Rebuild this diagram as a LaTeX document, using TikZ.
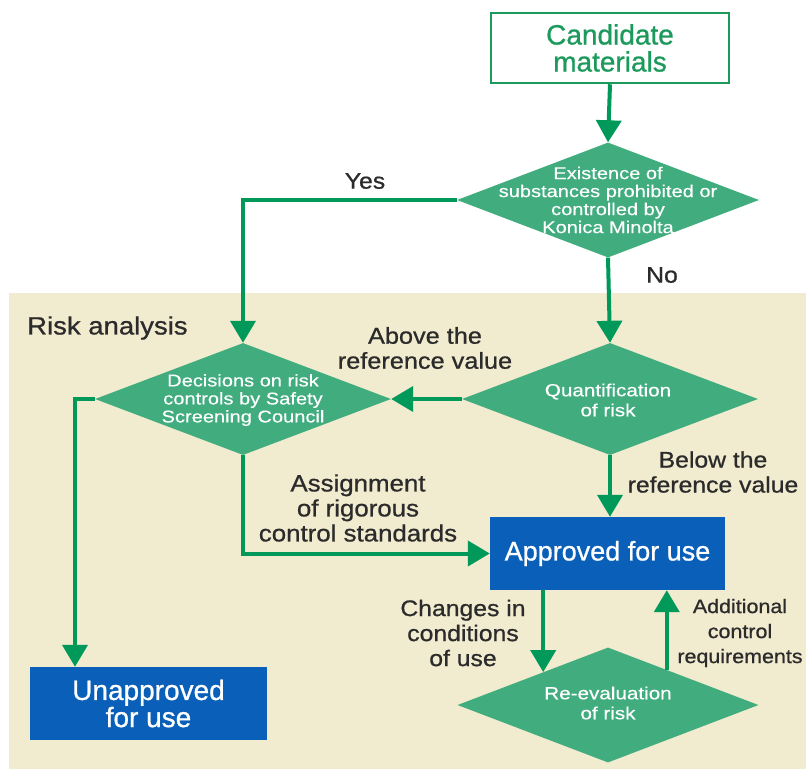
\documentclass[tikz,border=0pt]{standalone}
\usepackage{fontspec}
\setmainfont{Liberation Sans}
\newfontfamily\lblfont[FakeStretch=1.1,FakeBold=0.8]{Liberation Sans}
\newfontfamily\boxfont[FakeBold=0.8]{Liberation Sans}
\newfontfamily\dfont[FakeStretch=1.18,FakeBold=0.4]{Liberation Sans}
\usetikzlibrary{arrows.meta,shapes.geometric,calc}
\definecolor{beige}{HTML}{F1EBCF}
\definecolor{agreen}{HTML}{00995A}
\definecolor{dgreen}{HTML}{41AD7F}
\definecolor{cgreen}{HTML}{1C9A5C}
\definecolor{ablue}{HTML}{0A60B8}
\definecolor{ltext}{HTML}{2B2B2B}
\tikzset{
  arr/.style={draw=agreen, line width=4pt, -{Triangle[length=22pt,width=25pt]}},
  dia/.style={diamond, fill=dgreen, draw=none, inner sep=0pt},
  dtext/.style={text=white, align=center, inner sep=0pt},
  bluebox/.style={rectangle, fill=ablue, draw=none, text=white, align=center, inner sep=0pt},
  lbl/.style={text=ltext, align=center, inner sep=0pt},
}
\begin{document}
\begin{tikzpicture}[x=1pt,y=-1pt]
\useasboundingbox (0,0) rectangle (806,769);
\fill[beige] (9,293) rectangle (806,769);

\node[rectangle, draw=cgreen, line width=2.5pt, fill=white, minimum width=238pt, minimum height=70pt, text=cgreen, align=center, font=\boxfont\fontsize{28}{27}\selectfont, inner sep=0pt] (cand) at (610,48) {Candidate\\materials};

\node[dia, minimum width=302pt, minimum height=115pt] (d1) at (608,200) {};
\node[dtext, font=\dfont\fontsize{17}{18}\selectfont] (t1) at (608,200) {Existence of\\substances prohibited or\\controlled by\\Konica Minolta};

\node[dia, minimum width=296pt, minimum height=112pt] (d2) at (243,399) {};
\node[dtext, font=\dfont\fontsize{17}{18}\selectfont] (t2) at (243,400) {Decisions on risk\\controls by Safety\\Screening Council};

\node[dia, minimum width=296pt, minimum height=112pt] (d3) at (610,399) {};
\node[dtext, font=\dfont\fontsize{17.5}{20}\selectfont] (t3) at (608,400) {Quantification\\of risk};

\node[dia, minimum width=301pt, minimum height=115pt] (d4) at (608,705) {};
\node[dtext, font=\dfont\fontsize{17.5}{20}\selectfont] (t4) at (608,703) {Re-evaluation\\of risk};

\node[bluebox, minimum width=235pt, minimum height=73pt, font=\boxfont\fontsize{27}{27}\selectfont] (appr) at (607.5,553.5) {Approved for use};
\node[bluebox, minimum width=237pt, minimum height=73pt, font=\boxfont\fontsize{28}{24}\selectfont] (unapp) at (148.5,703.5) {Unapproved\\for use};

\node[lbl, anchor=west, font=\lblfont\fontsize{25}{25}\selectfont] (risk) at (27,328) {Risk analysis};
\node[lbl, font=\lblfont\fontsize{22.5}{25}\selectfont] (yes) at (365,181) {Yes};
\node[lbl, font=\lblfont\fontsize{22.5}{25}\selectfont] (no) at (662,275) {No};
\node[lbl, font=\lblfont\fontsize{23}{25}\selectfont] (above) at (425,348) {Above the\\reference value};
\node[lbl, font=\lblfont\fontsize{22.5}{25}\selectfont] (below) at (713,472) {Below the\\reference value};
\node[lbl, font=\lblfont\fontsize{23.5}{25}\selectfont] (assign) at (358,508) {Assignment\\of rigorous\\control standards};
\node[lbl, font=\lblfont\fontsize{22.5}{25}\selectfont] (chg) at (463,633) {Changes in\\conditions\\of use};
\node[lbl, font=\lblfont\fontsize{19.5}{25}\selectfont] (add) at (740,633) {Additional\\control\\requirements};

\coordinate (p4a) at ($(d4.north)!0.43!(d4.west)$);
\coordinate (p4b) at ($(d4.north)!0.39!(d4.east)$);

\draw[arr] (cand.south) -- (d1.north);
\draw[arr] (d1.west) -| (d2.north);
\draw[arr] (d1.south) -- (d3.north);
\draw[arr] (d3.west) -- (d2.east);
\draw[arr] (d3.south) -- (d3.south |- appr.north);
\draw[arr] (d2.south) |- (appr.west);
\draw[arr] (d2.west) -| ([xshift=-73.5pt]unapp.north);
\draw[arr] (appr.south -| p4a) -- (p4a);
\draw[arr] (p4b) -- (appr.south -| p4b);
\end{tikzpicture}
\end{document}
